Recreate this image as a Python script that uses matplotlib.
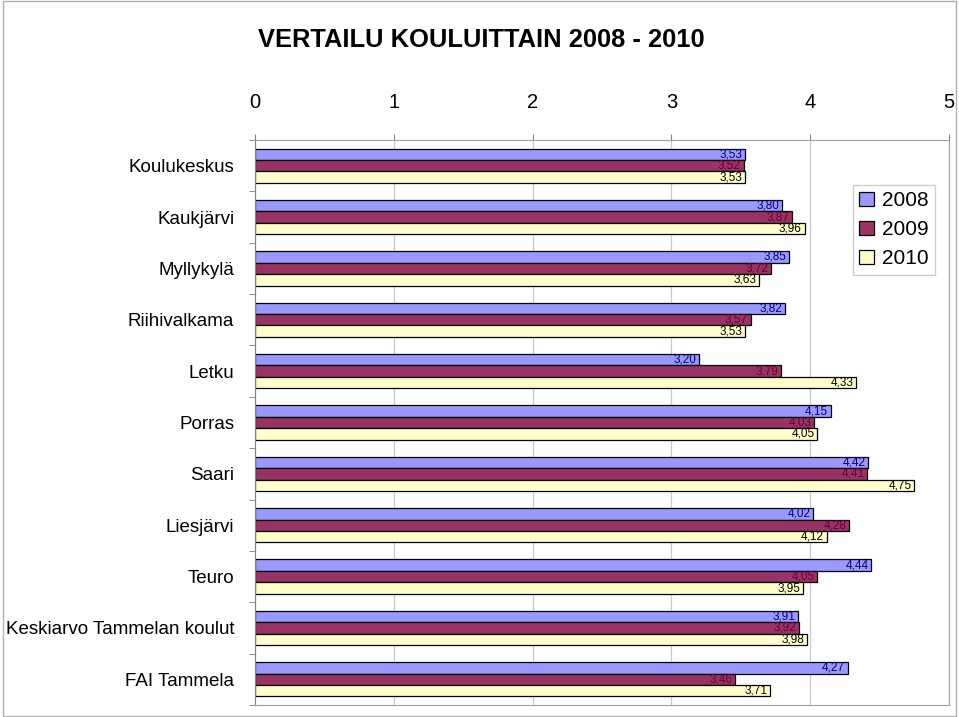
import numpy as np
import matplotlib
matplotlib.use("Agg")
import matplotlib.pyplot as plt
from matplotlib.patches import Rectangle

plt.rcParams["font.family"] = ["Liberation Sans", "DejaVu Sans"]

schools = ["Koulukeskus", "Kaukjärvi", "Myllykylä", "Riihivalkama", "Letku",
           "Porras", "Saari", "Liesjärvi", "Teuro",
           "Keskiarvo Tammelan koulut", "FAI Tammela"]
years = ["2008", "2009", "2010"]
v2008 = [3.53, 3.80, 3.85, 3.82, 3.20, 4.15, 4.42, 4.02, 4.44, 3.91, 4.27]
v2009 = [3.52, 3.87, 3.72, 3.57, 3.79, 4.03, 4.41, 4.28, 4.05, 3.92, 3.46]
v2010 = [3.53, 3.96, 3.63, 3.53, 4.33, 4.05, 4.75, 4.12, 3.95, 3.98, 3.71]
xticks = [0, 1, 2, 3, 4, 5]

fill_colors = ["#9999ff", "#993366", "#ffffcc"]
text_colors = ["#000080", "#660033", "#000000"]

fig = plt.figure(figsize=(9.59, 7.17), dpi=100)
fig.patches.append(Rectangle((0.003, 0.002), 0.994, 0.996, transform=fig.transFigure,
                             fill=False, edgecolor="#b0b0b0", linewidth=1))
ax = fig.add_axes([255 / 959, 1 - 705 / 717, (949 - 255) / 959, (705 - 140) / 717])

y = np.arange(len(schools))
h = 0.223
offsets = [-h, 0, h]
for vals, off, fc, tc, yr in zip([v2008, v2009, v2010], offsets, fill_colors, text_colors, years):
    bars = ax.barh(y + off, vals, height=h, color=fc, edgecolor="black", linewidth=0.9, label=yr)
    for b, v in zip(bars, vals):
        ax.text(v - 0.02, b.get_y() + b.get_height() / 2, f"{v:.2f}".replace(".", ","),
                ha="right", va="center", fontsize=8.5, color=tc)

ax.set_xlim(0, 5)
ax.set_ylim(len(schools) - 0.5, -0.5)
ax.xaxis.tick_top()
ax.set_xticks(xticks)
ax.set_xticklabels([str(t) for t in xticks], fontsize=14.5)
ax.tick_params(axis="x", length=4, pad=16, color="#808080")
ax.set_yticks(y)
ax.set_yticklabels(schools, fontsize=13.5)
ax.tick_params(axis="y", which="major", length=0, pad=15)
ax.set_yticks(np.arange(-0.5, len(schools)), minor=True)
ax.tick_params(axis="y", which="minor", length=4, color="#808080")
ax.grid(axis="x", color="#c8c8c8", linewidth=0.9)
ax.set_axisbelow(True)
for s in ["top", "right", "bottom"]:
    ax.spines[s].set_color("#a0a0a0")
ax.spines["left"].set_color("#808080")

leg = ax.legend(loc="upper left", bbox_to_anchor=((853 - 255) / 694, (705 - 185) / 565),
                fontsize=15, frameon=True, fancybox=False, edgecolor="#c0c0c0",
                handlelength=0.7, handleheight=0.7, handletextpad=0.4,
                borderpad=0.3, labelspacing=0.48, borderaxespad=0)
leg.get_frame().set_linewidth(1)

fig.text(258 / 959, 1 - 40 / 717, "VERTAILU KOULUITTAIN 2008 - 2010",
         fontsize=18.4, fontweight="bold", ha="left", va="center")

fig.savefig("out.png", dpi=100)
